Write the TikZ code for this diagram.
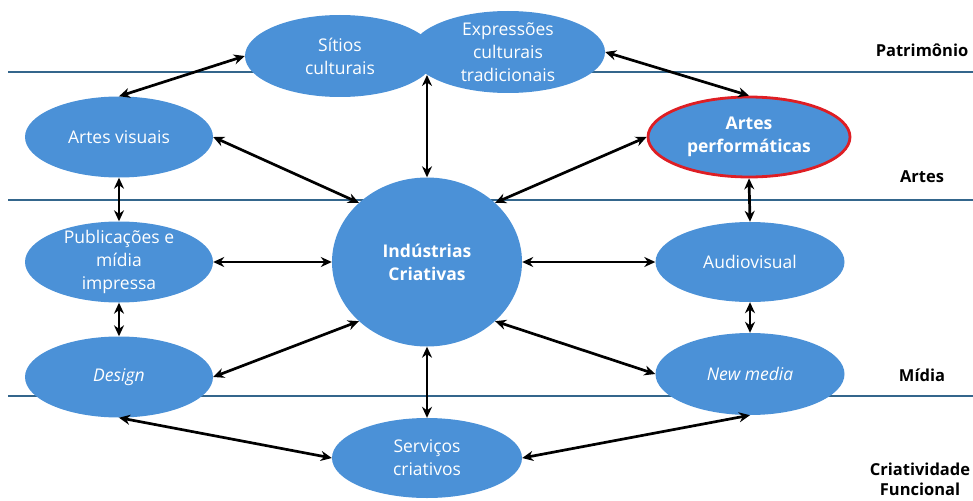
\documentclass[tikz,border=0pt]{standalone}
\usepackage{fontspec}
\setmainfont{Open Sans}
\usetikzlibrary{shapes.geometric,arrows.meta}
\definecolor{ellfill}{RGB}{75,145,215}
\definecolor{bandline}{RGB}{52,102,140}
\definecolor{perfred}{RGB}{222,30,36}
\newcommand\ellfont{\fontsize{17.5}{23}\selectfont}
\newcommand\lblfont{\fontsize{16.5}{20}\selectfont\bfseries}
\tikzset{
  blob/.style={ellipse, fill=ellfill, inner sep=0pt},
  lbl/.style={text=white, align=center, font=\ellfont},
  band/.style={draw=bandline, line width=1.4pt},
  tag/.style={align=center, font=\lblfont, text=black, inner sep=0pt},
  conn/.style={{Stealth[length=11pt,width=10pt]}-{Stealth[length=11pt,width=10pt]}, line width=2.7pt, black}
}
\begin{document}
\begin{tikzpicture}[x=1pt,y=-1pt]
\useasboundingbox (0,0) rectangle (973,500);
% band lines
\coordinate (l1a) at (8,72);  \coordinate (l1b) at (973,72);
\coordinate (l2a) at (8,200); \coordinate (l2b) at (973,200);
\coordinate (l3a) at (8,396); \coordinate (l3b) at (973,396);
\draw[band] (l1a) -- (l1b);
\draw[band] (l2a) -- (l2b);
\draw[band] (l3a) -- (l3b);
% ellipses
\node[blob, minimum width=190, minimum height=82, label={[lbl]center:Sítios\\culturais}] (sit) at (340,56) {};
\node[blob, minimum width=194, minimum height=82, label={[lbl]center:Expressões\\culturais\\tradicionais}] (expr) at (508,52) {};
\node[blob, minimum width=188, minimum height=81, label={[lbl]center:Artes visuais}] (av) at (119,137) {};
\node[blob, draw=perfred, line width=2.8pt, minimum width=202, minimum height=80, label={[lbl,font=\ellfont\bfseries]center:Artes\\performáticas}] (perf) at (749,137) {};
\node[blob, minimum width=188, minimum height=81, label={[lbl]center:Publicações e\\mídia\\impressa}] (pub) at (119,262) {};
\node[blob, minimum width=188, minimum height=81, label={[lbl,font=\ellfont\itshape]center:Design}] (des) at (119,377) {};
\node[blob, minimum width=190, minimum height=169, label={[lbl,font=\ellfont\bfseries]center:Indústrias\\Criativas}] (ind) at (427,262) {};
\node[blob, minimum width=189, minimum height=80, label={[lbl]center:Audiovisual}] (aud) at (750,262) {};
\node[blob, minimum width=189, minimum height=82, label={[lbl,font=\ellfont\itshape]center:New media}] (nm) at (750,374) {};
\node[blob, minimum width=190, minimum height=80, label={[lbl]center:Serviços\\criativos}] (serv) at (427,458) {};
\coordinate (pinch) at (427,75);
% band labels
\node[tag] (tpat) at (922,50) {Patrimônio};
\node[tag] (tart) at (922,177) {Artes};
\node[tag] (tmid) at (922,375) {Mídia};
\node[tag] (tcri) at (920,479) {Criatividade\\Funcional};
% connectors
\draw[conn] (sit.west) -- (av.north);
\draw[conn] (expr.east) -- (perf.north);
\draw[conn] (av.east) -- (ind.139);
\draw[conn] (perf.west) -- (ind.41);
\draw[conn] (av.south) -- (pub.north);
\draw[conn] (pub.east) -- (ind.west);
\draw[conn] (pub.south) -- (des.north);
\draw[conn] (des.east) -- (ind.221);
\draw[conn] (ind.east) -- (aud.west);
\draw[conn] (ind.-41) -- (nm.west);
\draw[conn] (perf.south) -- (aud.north);
\draw[conn] (aud.south) -- (nm.north);
\draw[conn] (ind.north) -- (pinch);
\draw[conn] (ind.south) -- (serv.north);
\draw[conn] (des.south) -- (serv.west);
\draw[conn] (nm.south) -- (serv.east);
\end{tikzpicture}
\end{document}
